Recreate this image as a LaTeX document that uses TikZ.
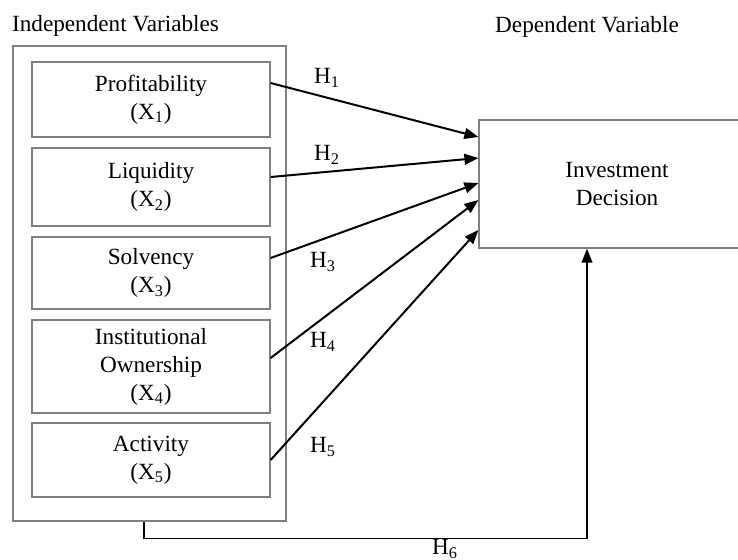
\documentclass[tikz,border=0pt]{standalone}
\usepackage{fontspec}
\setmainfont{Liberation Serif}
\usetikzlibrary{positioning, arrows.meta}

\tikzstyle{varbox} = [rectangle, minimum width=119pt, text centered, align=center, draw=black!50, line width=0.6pt]
\tikzstyle{outerbox} = [rectangle, minimum width=136.5pt, minimum height=237.5pt, draw=black!50, line width=0.6pt]
\tikzstyle{arrow} = [line width=1pt, -{Triangle[length=7pt, width=5.4pt]}]
\tikzstyle{hyp} = [inner sep=0pt]

\begin{document}
\begin{tikzpicture}[x=0.5pt, y=-0.5pt, font=\fontsize{11.6}{14}\selectfont]
\useasboundingbox (0,0) rectangle (738,559);

\node (IndepTitle) at (115.5,26) {Independent Variables};
\node (DepTitle) at (587,27) {Dependent Variable};

\node (IndepVars) [outerbox] at (149.5,283.5) {};

\node (Profit) [varbox, minimum height=37.5pt] at (151,99.5) {Profitability\\(X\textsubscript{1})};
\node (Liquid) [varbox, minimum height=39pt] at (151,187) {Liquidity\\(X\textsubscript{2})};
\node (Solv) [varbox, minimum height=36pt] at (151,273) {Solvency\\(X\textsubscript{3})};
\node (InstOwn) [varbox, minimum height=46.5pt] at (151,366.5) {Institutional\\Ownership\\(X\textsubscript{4})};
\node (Activ) [varbox, minimum height=37pt] at (151,460) {Activity\\(X\textsubscript{5})};

\node (Invest) [varbox, minimum width=138pt, minimum height=64pt] at (617,184) {Investment\\Decision};

\draw [arrow] ([yshift=8.25pt]Profit.east) -- ([yshift=23.5pt]Invest.west);
\draw [arrow] ([yshift=5pt]Liquid.east) -- ([yshift=13pt]Invest.west);
\draw [arrow] ([yshift=7.5pt]Solv.east) -- ([yshift=0.5pt]Invest.west);
\draw [arrow] ([yshift=4.25pt]InstOwn.east) -- ([yshift=-8pt]Invest.west);
\draw [arrow] (Activ.east) -- ([yshift=-23pt]Invest.west);

\draw [line width=0.7pt, -{Triangle[length=7pt, width=5.4pt]}] ([xshift=-2.75pt]IndepVars.south) -- ++(0,17) -| ([xshift=-15pt]Invest.south);

\node (H1) [hyp] at (327,78) {H\textsubscript{1}};
\node (H2) [hyp] at (327,155) {H\textsubscript{2}};
\node (H3) [hyp] at (323,262) {H\textsubscript{3}};
\node (H4) [hyp] at (323,342) {H\textsubscript{4}};
\node (H5) [hyp] at (323,447) {H\textsubscript{5}};
\node (H6) [hyp] at (445,549) {H\textsubscript{6}};

\end{tikzpicture}
\end{document}
